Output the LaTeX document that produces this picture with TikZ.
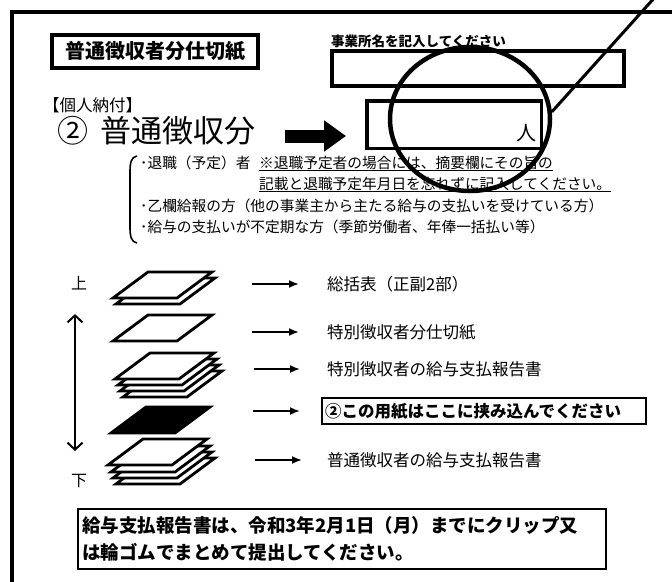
\documentclass[tikz,border=0pt]{standalone}
\usepackage{fontspec}
\newfontfamily\jp{Noto Sans CJK JP}
\usetikzlibrary{positioning, shapes.geometric, arrows.meta}

\begin{document}
\begin{tikzpicture}[x=1pt, y=-1pt]
  % Define styles for nodes
  \tikzset{
    framebox/.style={draw, line width=4pt, inner sep=0pt},
    plaintext/.style={anchor=west, inner sep=0pt, font=\jp\fontsize{14.7}{17}\selectfont},
    itemtext/.style={anchor=west, inner sep=0pt, font=\jp\fontsize{16.5}{20}\selectfont},
    insertbox/.style={draw, line width=2pt, anchor=west, text width=318pt, align=left,
      minimum height=26pt, inner sep=3pt, font=\jp\bfseries\fontsize{16.5}{20}\selectfont},
    notebox/.style={draw, line width=2pt, anchor=north west, text width=520pt, align=left,
      minimum height=60pt, inner sep=4pt, font=\jp\bfseries\fontsize{18.5}{27}\selectfont},
    endmark/.style={inner sep=0pt, font=\jp\fontsize{16}{18}\selectfont},
    pointer/.style={line width=1.8pt, -{Latex[length=10pt,width=8pt]}},
    updown/.style={line width=2pt, {Straight Barb[length=7pt,width=15pt]}-{Straight Barb[length=7pt,width=15pt]}},
    underline/.style={line width=1.3pt},
    pics/sheet/.style={code={\draw[line width=2.8pt, line join=miter, fill=#1]
      (0,0) -- (64,0) -- (29,26) -- (-35,26) -- cycle;}},
    pics/sheet/.default=white
  }
  \useasboundingbox (0,0) rectangle (672,581);

  % Outer frame (only the top and left edges show)
  \draw[line width=3.5pt] (12,600) -- (12,12) -- (700,12);

  % Header: title, office name and count boxes
  \node[framebox, minimum width=206pt, minimum height=33pt,
        font=\jp\bfseries\fontsize{20}{24}\selectfont] (title) at (155,51.5) {普通徴収者分仕切紙};
  \node[anchor=base west, inner sep=0pt, font=\jp\bfseries\fontsize{13.5}{16}\selectfont]
        (officehint) at (331,46) {事業所名を記入してください};
  \node[framebox, minimum width=292pt, minimum height=35pt] (office) at (478,68.5) {};
  \node[framebox, line width=3.5pt, minimum width=174.5pt, minimum height=47.5pt] (count) at (454,124.5) {};
  \node[inner sep=0pt, anchor=east, font=\jp\fontsize{20}{24}\selectfont]
        (unit) at ([xshift=-6pt, yshift=-8.5pt]count.east) {人};

  \node[anchor=west, inner sep=0pt, font=\jp\fontsize{16.5}{20}\selectfont] (kojin) at (43,105) {【個人納付】};
  \node[anchor=west, inner sep=0pt, font=\jp\fontsize{31}{36}\selectfont]
        (futsu) at (57,131) {②\hspace{12pt}普通徴収分};
  \draw[line width=13pt, -{Triangle[length=22pt,width=30pt]}]
        ([xshift=30pt, yshift=-5pt]futsu.east) -- ([xshift=-19pt, yshift=-11.5pt]count.west);

  % Who belongs here
  \draw[line width=1.6pt] (137,156) .. controls (131,157) and (130,163) .. (130,172)
        -- (130,227) .. controls (130,236) and (131,242) .. (137,243);
  \node[plaintext] (retire) at (140,163) {･退職（予定）者};
  \node[plaintext] (note1) at (259,163) {※退職予定者の場合には、摘要欄にその旨の};
  \node[plaintext] (note2) at (259,184) {記載と退職予定年月日を忘れずに記入してください。};
  \node[plaintext] (otsu) at (140,206) {･乙欄給報の方（他の事業主から主たる給与の支払いを受けている方）};
  \node[plaintext] (irreg) at (140,227) {･給与の支払いが不定期な方（季節労働者、年俸一括払い等）};
  \draw[underline] ([yshift=-2pt]note1.base west) -- ([yshift=-2pt]note1.base east);
  \draw[underline] ([yshift=-2pt]note2.base west) -- ([yshift=-2pt]note2.base east);

  % Circle marking the count box
  \node[draw, ellipse, line width=4.5pt, minimum width=160pt, minimum height=144pt, inner sep=0pt]
        (stamp) at (470,119) {};
  \coordinate (lead) at (656,-4);
  \draw[line width=3pt] (stamp.5) -- (lead);

  % Order of the bundle
  \node[endmark] (top) at (79,283) {上};
  \node[endmark] (bottom) at (79,481) {下};
  \draw[updown] ([xshift=-4pt, yshift=-24pt]top.south) -- ([xshift=-4pt, yshift=23pt]bottom.north);

  \pic at (151,278) {sheet};
  \pic at (148,272) {sheet};

  \pic at (148,315) {sheet};

  \pic at (158,371) {sheet};
  \pic at (155,365) {sheet};
  \pic at (153,359) {sheet};
  \pic at (150,353) {sheet};

  \pic at (146,407) {sheet=black};

  \pic at (151,458) {sheet};
  \pic at (148,452) {sheet};
  \pic at (146,446) {sheet};
  \pic at (143,439) {sheet};

  \node[itemtext] (sum) at (327,284) {総括表（正副2部）};
  \node[itemtext] (special) at (327,332) {特別徴収者分仕切紙};
  \node[itemtext] (specialrep) at (327,369) {特別徴収者の給与支払報告書};
  \node[insertbox] (here) at (321,411) {②この用紙はここに挟み込んでください};
  \node[itemtext] (normalrep) at (327,460) {普通徴収者の給与支払報告書};

  \draw[pointer] ([xshift=-75pt]sum.west) -- ([xshift=-28pt]sum.west);
  \draw[pointer] ([xshift=-75pt]special.west) -- ([xshift=-28pt]special.west);
  \draw[pointer] ([xshift=-73pt]specialrep.west) -- ([xshift=-27pt]specialrep.west);
  \draw[pointer] ([xshift=-68pt]here.west) -- ([xshift=-21pt]here.west);
  \draw[pointer] ([xshift=-72pt]normalrep.west) -- ([xshift=-25pt]normalrep.west);

  % Deadline note
  \node[notebox] (deadline) at (77,508)
        {給与支払報告書は、令和3年2月1日（月）までにクリップ又\\は輪ゴムでまとめて提出してください。};
\end{tikzpicture}
\end{document}
